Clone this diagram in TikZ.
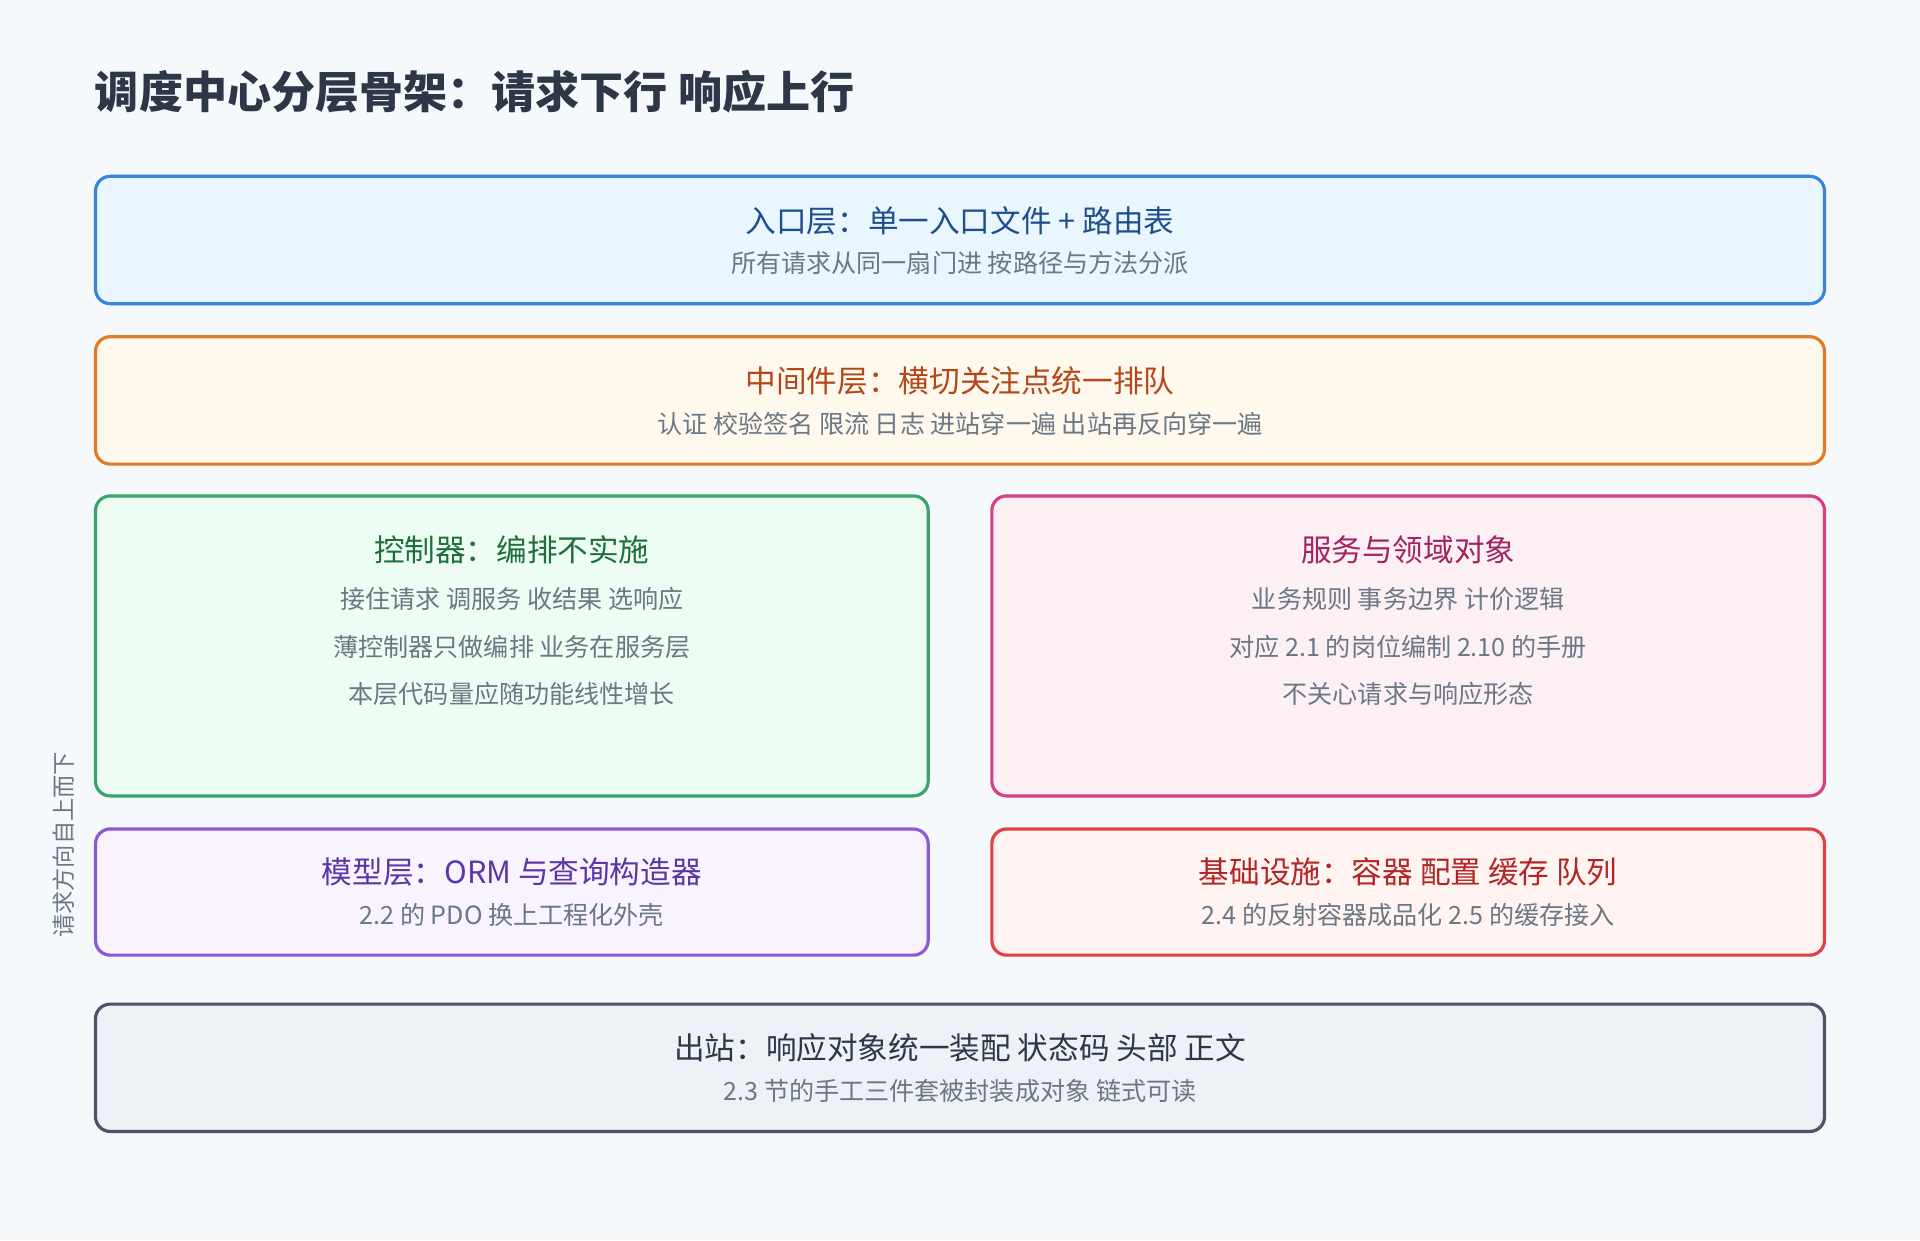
\documentclass[tikz,border=0pt]{standalone}
\usepackage{fontspec}
\setmainfont{Noto Sans CJK SC}
\definecolor{bg}{HTML}{F5F9FC}
\definecolor{subgray}{HTML}{6B7785}
\definecolor{bluel}{HTML}{3A86D6}\definecolor{bluef}{HTML}{EAF6FE}\definecolor{bluet}{HTML}{1F4E8C}
\definecolor{orgl}{HTML}{E07B2A}\definecolor{orgf}{HTML}{FFF8EC}\definecolor{orgt}{HTML}{B3471A}
\definecolor{grnl}{HTML}{3AA36A}\definecolor{grnf}{HTML}{EEFDF3}\definecolor{grnt}{HTML}{1E6E3E}
\definecolor{pnkl}{HTML}{D63F86}\definecolor{pnkf}{HTML}{FDF0F5}\definecolor{pnkt}{HTML}{A3235F}
\definecolor{purl}{HTML}{8A5AD6}\definecolor{purf}{HTML}{F8F3FF}\definecolor{purt}{HTML}{5A36A6}
\definecolor{redl}{HTML}{E04040}\definecolor{redf}{HTML}{FFF4F2}\definecolor{redt}{HTML}{B32525}
\definecolor{gryl}{HTML}{4A5568}\definecolor{gryf}{HTML}{EEF2F6}\definecolor{gryt}{HTML}{2D3748}
\tikzset{
  layer/.style n args={2}{draw=#1, fill=#2, line width=2.6pt, rounded corners=12pt},
  ttl/.style={text=#1, font=\fontsize{25}{30}\selectfont},
  sub/.style={text=subgray, font=\fontsize{20.5}{24}\selectfont}
}
\begin{document}
\begin{tikzpicture}[x=1pt,y=-1pt]
  \fill[bg] (0,0) rectangle (1568,1013);
  \useasboundingbox (0,0) rectangle (1568,1013);
  \node[anchor=west, font=\fontsize{36}{42}\selectfont\bfseries, text=gryt] (title) at (74,75) {调度中心分层骨架：请求下行 响应上行};

  % entry
  \draw[layer={bluel}{bluef}] (78,144) rectangle (1490,248);
  \node[ttl=bluet] (entryT) at (784,180) {入口层：单一入口文件 + 路由表};
  \node[sub] (entryS) at (784,215) {所有请求从同一扇门进 按路径与方法分派};

  % middleware
  \draw[layer={orgl}{orgf}] (78,275) rectangle (1490,379);
  \node[ttl=orgt] (midT) at (784,311) {中间件层：横切关注点统一排队};
  \node[sub] (midS) at (784,346) {认证 校验签名 限流 日志 进站穿一遍 出站再反向穿一遍};

  % controller
  \draw[layer={grnl}{grnf}] (78,405) rectangle (758,650);
  \node[ttl=grnt] (ctlT) at (418,449) {控制器：编排不实施};
  \node[sub] (ctlA) at (418,489) {接住请求 调服务 收结果 选响应};
  \node[sub] (ctlB) at (418,528) {薄控制器只做编排 业务在服务层};
  \node[sub] (ctlC) at (418,567) {本层代码量应随功能线性增长};

  % service
  \draw[layer={pnkl}{pnkf}] (810,405) rectangle (1490,650);
  \node[ttl=pnkt] (svcT) at (1150,449) {服务与领域对象};
  \node[sub] (svcA) at (1150,489) {业务规则 事务边界 计价逻辑};
  \node[sub] (svcB) at (1150,528) {对应 2.1 的岗位编制 2.10 的手册};
  \node[sub] (svcC) at (1150,567) {不关心请求与响应形态};

  % model
  \draw[layer={purl}{purf}] (78,677) rectangle (758,780);
  \node[ttl=purt] (mdlT) at (418,712) {模型层：ORM 与查询构造器};
  \node[sub] (mdlS) at (418,747) {2.2 的 PDO 换上工程化外壳};

  % infra
  \draw[layer={redl}{redf}] (810,677) rectangle (1490,780);
  \node[ttl=redt] (infT) at (1150,712) {基础设施：容器 配置 缓存 队列};
  \node[sub] (infS) at (1150,747) {2.4 的反射容器成品化 2.5 的缓存接入};

  % outbound
  \draw[layer={gryl}{gryf}] (78,820) rectangle (1490,924);
  \node[ttl=gryt] (outT) at (784,856) {出站：响应对象统一装配 状态码 头部 正文};
  \node[sub] (outS) at (784,891) {2.3 节的手工三件套被封装成对象 链式可读};

  \node[sub, rotate=90, font=\fontsize{19}{22}\selectfont] (dir) at (52,690) {请求方向自上而下};
\end{tikzpicture}
\end{document}
